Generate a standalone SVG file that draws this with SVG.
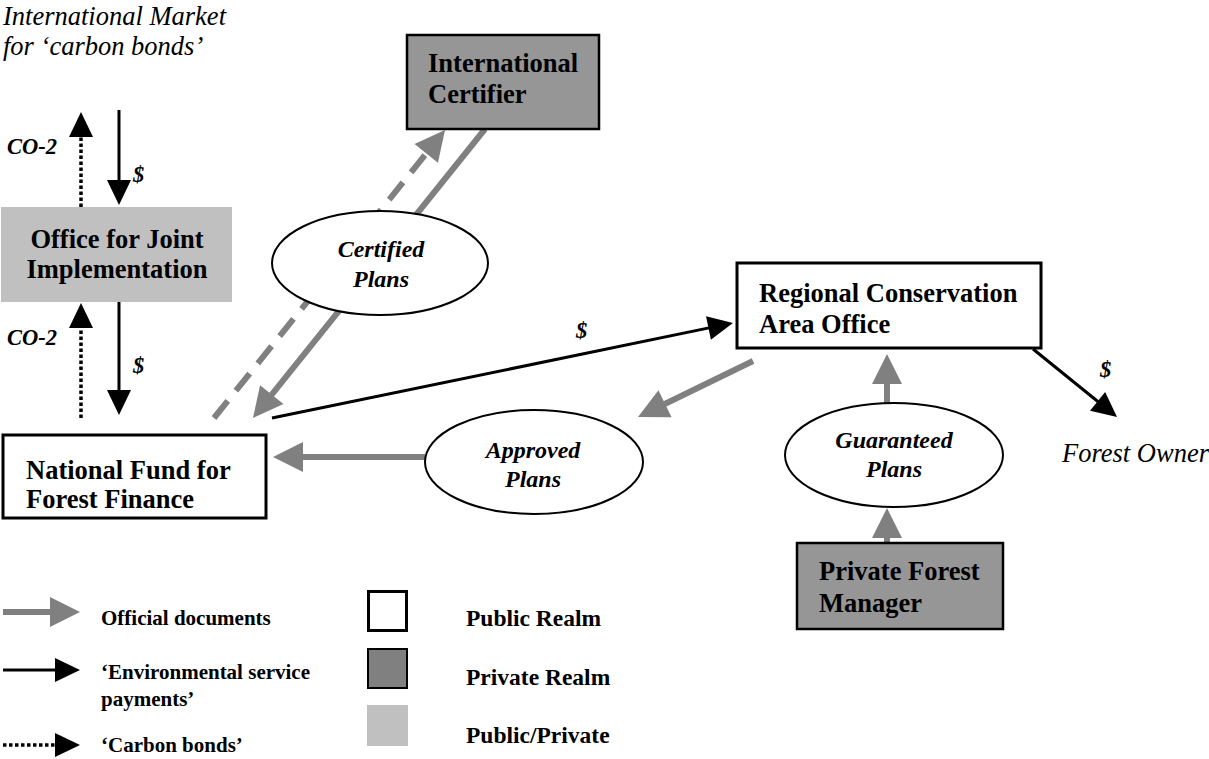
<svg xmlns="http://www.w3.org/2000/svg" width="1209" height="759" viewBox="0 0 1209 759">
  <style>
    .box-title { font-family: "Liberation Serif", "Times New Roman", serif; font-weight: bold; font-size: 26.5px; fill: #000; }
    .oval-label { font-family: "Liberation Serif", "Times New Roman", serif; font-weight: bold; font-style: italic; font-size: 24px; fill: #000; text-anchor: middle; }
    .flow-label { font-family: "Liberation Serif", "Times New Roman", serif; font-weight: bold; font-style: italic; font-size: 22.5px; fill: #000; }
    .place { font-family: "Liberation Serif", "Times New Roman", serif; font-style: italic; font-size: 26.5px; fill: #000; }
    .legend-text { font-family: "Liberation Serif", "Times New Roman", serif; font-weight: bold; font-size: 21px; fill: #000; }
    .legend-text-r { font-family: "Liberation Serif", "Times New Roman", serif; font-weight: bold; font-size: 23.5px; fill: #000; }
    .public { fill: #ffffff; stroke: #000; stroke-width: 3; }
    .private { fill: #969696; stroke: #000; stroke-width: 2.5; }
    .mixed { fill: #c0c0c0; stroke: none; }
    .oval { fill: #ffffff; stroke: #000; stroke-width: 2; }
    .doc { fill: none; stroke: #808080; stroke-width: 6; marker-end: url(#head-gray); }
    .doc-dash { stroke-dasharray: 22 13; }
    .pay { fill: none; stroke: #000; stroke-width: 3; marker-end: url(#head-black); }
    .bond { fill: none; stroke: #000; stroke-width: 3.5; stroke-dasharray: 3.5 2.5; marker-end: url(#head-black); }
  </style>
  <defs>
    <marker id="head-gray" markerUnits="userSpaceOnUse" markerWidth="30" markerHeight="30" refX="10" refY="15" orient="auto" overflow="visible">
      <path d="M0,0 L30,15 L0,30 z" fill="#808080"/>
    </marker>
    <marker id="head-black" markerUnits="userSpaceOnUse" markerWidth="25" markerHeight="24" refX="13" refY="12" orient="auto" overflow="visible">
      <path d="M0,0 L25,12 L0,24 z" fill="#000"/>
    </marker>
  </defs>

  <rect width="1209" height="759" fill="#ffffff"/>

  <!-- connectors -->
  <g id="connectors">
    <!-- carbon bonds up, money down around the joint implementation office -->
    <line class="bond" x1="81" y1="207" x2="81" y2="124"/>
    <line class="pay" x1="119" y1="110" x2="119" y2="193"/>
    <line class="bond" x1="81" y1="418" x2="81" y2="315"/>
    <line class="pay" x1="119" y1="302" x2="119" y2="403"/>

    <!-- plans to and from the certifier -->
    <line class="doc doc-dash" x1="214" y1="418" x2="432.5" y2="145.6"/>
    <line class="doc" x1="485" y1="129" x2="265.5" y2="402.4"/>

    <!-- payments from the national fund -->
    <line class="pay" x1="272" y1="418" x2="721.2" y2="325.4"/>
    <line class="pay" x1="1033" y1="349" x2="1107.7" y2="409.5"/>

    <!-- plan approvals -->
    <line class="doc" x1="753" y1="361" x2="656" y2="408.2"/>
    <line class="doc" x1="425" y1="457" x2="293" y2="457"/>
    <line class="doc" x1="887" y1="403" x2="887" y2="374"/>
    <line class="doc" x1="887" y1="543" x2="887" y2="528"/>
  </g>

  <!-- flow labels -->
  <g id="flow-labels">
    <text class="flow-label" x="7" y="154">CO-2</text>
    <text class="flow-label" x="133" y="182">$</text>
    <text class="flow-label" x="7" y="345">CO-2</text>
    <text class="flow-label" x="133" y="373">$</text>
    <text class="flow-label" x="576" y="338">$</text>
    <text class="flow-label" x="1100" y="377">$</text>
  </g>

  <g id="market">
    <text class="place" x="3" y="25">International Market</text>
    <text class="place" x="3" y="55">for ‘carbon bonds’</text>
  </g>

  <g id="joint-office">
    <rect class="mixed" x="1" y="207" width="231" height="95"/>
    <text class="box-title" x="117" y="248" text-anchor="middle">Office for Joint</text>
    <text class="box-title" x="117" y="278" text-anchor="middle">Implementation</text>
  </g>

  <g id="certifier">
    <rect class="private" x="407" y="35" width="192" height="94"/>
    <text class="box-title" x="428" y="72">International</text>
    <text class="box-title" x="428" y="103">Certifier</text>
  </g>

  <g id="certified-plans">
    <ellipse class="oval" cx="380" cy="263" rx="108" ry="52"/>
    <text class="oval-label" x="381" y="257">Certified</text>
    <text class="oval-label" x="381" y="287">Plans</text>
  </g>

  <g id="regional-office">
    <rect class="public" x="737" y="263" width="304" height="85"/>
    <text class="box-title" x="759" y="302">Regional Conservation</text>
    <text class="box-title" x="759" y="333">Area Office</text>
  </g>

  <g id="national-fund">
    <rect class="public" x="3" y="435" width="263" height="83"/>
    <text class="box-title" x="26" y="479">National Fund for</text>
    <text class="box-title" x="26" y="508">Forest Finance</text>
  </g>

  <g id="approved-plans">
    <ellipse class="oval" cx="534" cy="462" rx="109" ry="52"/>
    <text class="oval-label" x="533" y="458">Approved</text>
    <text class="oval-label" x="533" y="487">Plans</text>
  </g>

  <g id="guaranteed-plans">
    <ellipse class="oval" cx="894" cy="455" rx="109" ry="52"/>
    <text class="oval-label" x="894" y="448">Guaranteed</text>
    <text class="oval-label" x="894" y="477">Plans</text>
  </g>

  <g id="forest-manager">
    <rect class="private" x="797" y="543" width="206" height="86"/>
    <text class="box-title" x="819" y="580">Private Forest</text>
    <text class="box-title" x="819" y="612">Manager</text>
  </g>

  <g id="forest-owner">
    <text class="place" x="1062" y="462">Forest Owner</text>
  </g>

  <!-- key -->
  <g id="legend">
    <line class="doc" x1="3" y1="612" x2="60" y2="612"/>
    <text class="legend-text" x="101" y="625">Official documents</text>
    <line class="pay" x1="3" y1="670" x2="68" y2="670"/>
    <text class="legend-text" x="101" y="679">‘Environmental service</text>
    <text class="legend-text" x="101" y="706">payments’</text>
    <line class="bond" x1="3" y1="745" x2="68" y2="745"/>
    <text class="legend-text" x="101" y="752">‘Carbon bonds’</text>

    <rect class="public" x="368.5" y="591.5" width="38" height="39"/>
    <text class="legend-text-r" x="466" y="626">Public Realm</text>
    <rect x="368" y="649" width="39" height="39" fill="#808080" stroke="#000" stroke-width="2"/>
    <text class="legend-text-r" x="466" y="685">Private Realm</text>
    <rect class="mixed" x="367" y="705" width="41" height="41"/>
    <text class="legend-text-r" x="466" y="743">Public/Private</text>
  </g>
</svg>
